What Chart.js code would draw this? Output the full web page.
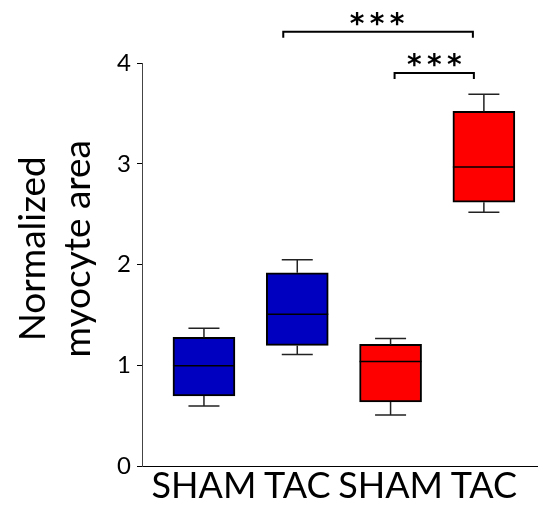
<!DOCTYPE html>
<html>
<head>
<meta charset="utf-8">
<script src="https://cdn.jsdelivr.net/npm/chart.js@4"></script>
<style>
  body { margin: 0; background: #fff; }
  #wrap { width: 538px; height: 507px; }
</style>
</head>
<body>
<div id="wrap"><canvas id="boxChart" width="538" height="507"></canvas></div>
<script>
// groups and box statistics
const groups = ['SHAM', 'TAC', 'SHAM', 'TAC'];
const positions = [1, 2, 3, 4];
const mins = [0.60, 1.11, 0.51, 2.52];
const q1 = [0.70, 1.20, 0.64, 2.62];
const medians = [1.00, 1.51, 1.04, 2.97];
const q3 = [1.28, 1.92, 1.21, 3.52];
const maxs = [1.37, 2.05, 1.27, 3.69];
const boxColors = ['#0000c0', '#0000c0', '#ff0000', '#ff0000'];
const yTicks = [0, 1, 2, 3, 4];
const yTitle = ['Normalized', 'myocyte area'];

// significance brackets: from group, to group, height (data units), label
const sigFrom = [2, 3];
const sigTo = [4, 4];
const sigHeight = [4.31, 3.90];
const sigLabels = ['***', '***'];

const FONT = 'Lato, "Open Sans", sans-serif';

// whiskers + medians, drawn through the chart scales
const boxExtras = {
    id: 'boxExtras',
    afterDatasetsDraw(chart) {
        const ctx = chart.ctx;
        const xs = chart.scales.x, ys = chart.scales.y;
        const half = 31, cap = 15.5;
        ctx.save();
        positions.forEach((p, i) => {
            const cx = xs.getPixelForValue(p);
            // whiskers
            ctx.strokeStyle = '#222';
            ctx.lineWidth = 1.5;
            ctx.beginPath();
            ctx.moveTo(cx, ys.getPixelForValue(q3[i]));
            ctx.lineTo(cx, ys.getPixelForValue(maxs[i]));
            ctx.moveTo(cx - cap, ys.getPixelForValue(maxs[i]));
            ctx.lineTo(cx + cap, ys.getPixelForValue(maxs[i]));
            ctx.moveTo(cx, ys.getPixelForValue(q1[i]));
            ctx.lineTo(cx, ys.getPixelForValue(mins[i]));
            ctx.moveTo(cx - cap, ys.getPixelForValue(mins[i]));
            ctx.lineTo(cx + cap, ys.getPixelForValue(mins[i]));
            ctx.stroke();
            // median
            ctx.strokeStyle = '#000';
            ctx.lineWidth = 1.5;
            ctx.beginPath();
            ctx.moveTo(cx - half, ys.getPixelForValue(medians[i]));
            ctx.lineTo(cx + half, ys.getPixelForValue(medians[i]));
            ctx.stroke();
        });
        ctx.restore();
    },
    afterDraw(chart) {
        const ctx = chart.ctx;
        const xs = chart.scales.x, ys = chart.scales.y;
        ctx.save();
        // significance brackets
        const offs = [[-14, -11], [4, -10]];
        sigFrom.forEach((f, i) => {
            const x1 = xs.getPixelForValue(f) + offs[i][0];
            const x2 = xs.getPixelForValue(sigTo[i]) + offs[i][1];
            const y = ys.getPixelForValue(sigHeight[i]);
            ctx.strokeStyle = '#000';
            ctx.lineWidth = 2;
            ctx.beginPath();
            ctx.moveTo(x1, y + 6);
            ctx.lineTo(x1, y);
            ctx.lineTo(x2, y);
            ctx.lineTo(x2, y + 6);
            ctx.stroke();
            ctx.fillStyle = '#000';
            ctx.font = 'bold 28px "DejaVu Sans", sans-serif';
            ctx.textAlign = 'center';
            ctx.textBaseline = 'alphabetic';
            const mid = (x1 + x2) / 2 + (i === 0 ? -1 : 0);
            for (let k = 0; k < sigLabels[i].length; k++) {
                ctx.fillText(sigLabels[i][k], mid + (k - 1) * 20, y + 1);
            }
        });
        // y axis title
        const a = chart.chartArea;
        ctx.translate(45, (a.top + a.bottom) / 2 - 16);
        ctx.rotate(-Math.PI / 2);
        ctx.font = '37px ' + FONT;
        ctx.textAlign = 'center';
        ctx.textBaseline = 'alphabetic';
        ctx.fillStyle = '#000';
        yTitle.forEach((t, i) => ctx.fillText(t, 0, i * 45));
        ctx.restore();
    }
};

new Chart(document.getElementById('boxChart').getContext('2d'), {
    type: 'bar',
    data: {
        datasets: [{
            data: positions.map((p, i) => ({x: p, y: [q1[i], q3[i]]})),
            backgroundColor: boxColors,
            borderColor: '#000',
            borderWidth: 2,
            borderSkipped: false,
            barThickness: 62
        }]
    },
    options: {
        responsive: false,
        animation: false,
        layout: {padding: {top: 63, right: 0, left: 0, bottom: 0}},
        plugins: {legend: {display: false}, tooltip: {enabled: false}},
        scales: {
            x: {
                type: 'linear',
                offset: false,
                min: 0.336,
                max: 4.58,
                afterBuildTicks: s => { s.ticks = positions.map(v => ({value: v})); },
                afterFit: s => { s.height = 40.5; },
                grid: {display: false, drawTicks: false, offset: false},
                border: {display: true, color: '#000', width: 1},
                ticks: {
                    color: '#000',
                    padding: -2,
                    maxRotation: 0,
                    autoSkip: false,
                    font: {family: FONT, size: 36},
                    callback: v => groups[positions.indexOf(v)]
                }
            },
            y: {
                min: 0,
                max: 4,
                afterBuildTicks: s => { s.ticks = yTicks.map(v => ({value: v})); },
                afterFit: s => { s.width = 142; },
                grid: {drawOnChartArea: false, tickLength: 5, color: '#000'},
                border: {display: true, color: '#444', width: 1},
                ticks: {color: '#000', padding: 6, font: {family: FONT, size: 24}}
            }
        }
    },
    plugins: [boxExtras]
});
</script>
</body>
</html>
